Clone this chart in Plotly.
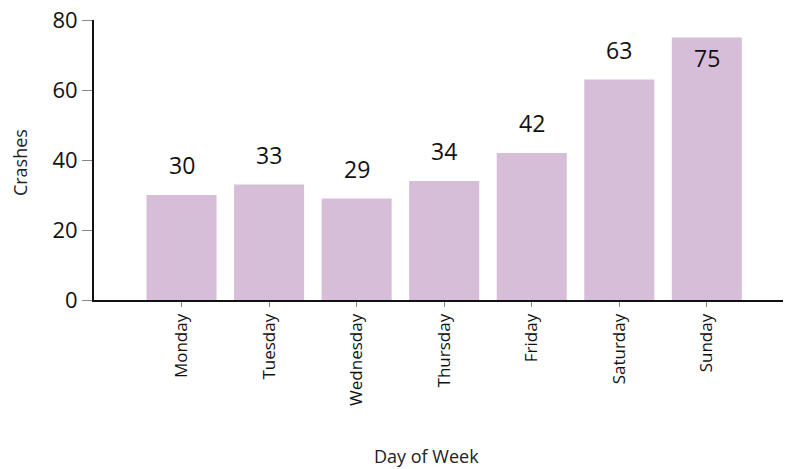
import plotly.graph_objects as go

days = ["Monday", "Tuesday", "Wednesday", "Thursday", "Friday", "Saturday", "Sunday"]
crashes = [30, 33, 29, 34, 42, 63, 75]
y_ticks = [0, 20, 40, 60, 80]

FONT = "Open Sans"
BAR_COLOR = "#D6BDD8"

fig = go.Figure()
fig.add_trace(go.Bar(x=days, y=crashes, marker=dict(color=BAR_COLOR, line=dict(width=0)),
                     hoverinfo="skip"))

for d, v in zip(days, crashes):
    inside = v >= 70
    fig.add_annotation(x=d, y=v, xref="x", yref="y", text=str(v), showarrow=False,
                       yshift=-20 if inside else 30,
                       font=dict(family=FONT, size=23, color="#111111"))

fig.update_layout(
    width=786, height=469,
    margin=dict(l=94, r=3, t=20, b=169, autoexpand=False),
    paper_bgcolor="white", plot_bgcolor="white",
    bargap=0.2,
    showlegend=False,
    font=dict(family=FONT, color="#111111"),
)
fig.add_annotation(x=-0.107, y=0.49, xref="paper", yref="paper", text="Crashes", showarrow=False,
                   textangle=-90, xanchor="center", yanchor="middle",
                   font=dict(family=FONT, size=18, color="#222222"))
fig.add_annotation(x=0.483, y=-0.557, xref="paper", yref="paper", text="Day of Week", showarrow=False,
                   xanchor="center", yanchor="middle",
                   font=dict(family=FONT, size=18, color="#222222"))

fig.update_xaxes(
    type="category", range=[-1.0, 6.87], automargin=False,
    showline=True, linecolor="#111111", linewidth=2,
    ticks="outside", ticklen=5, tickcolor="#888888", tickwidth=1,
    tickangle=-90, tickfont=dict(family=FONT, size=17, color="#111111"),
    showgrid=False, zeroline=False, fixedrange=True,
)
fig.update_yaxes(
    range=[0, 80], tickvals=y_ticks, ticklabeloverflow="allow", automargin=False,
    showline=True, linecolor="#111111", linewidth=2,
    ticks="outside", ticklen=10, tickcolor="#888888", tickwidth=1,
    tickfont=dict(family=FONT, size=22, color="#111111"),
    showgrid=False, zeroline=False, fixedrange=True,
)

fig.write_html("out.html", config={"displayModeBar": False, "staticPlot": True},
               post_script="document.body.style.margin='0';")
